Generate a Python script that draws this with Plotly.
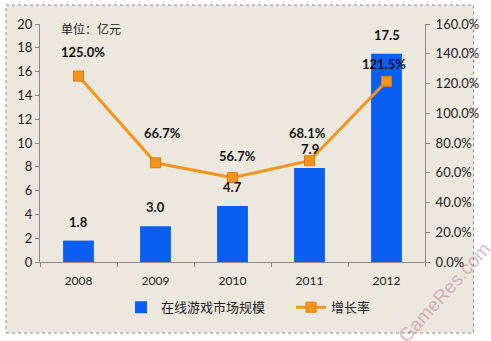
import plotly.graph_objects as go

years = ["2008", "2009", "2010", "2011", "2012"]
market = [1.8, 3.0, 4.7, 7.9, 17.5]
growth = [125.0, 66.7, 56.7, 68.1, 121.5]
bar_name = "在线游戏市场规模"
line_name = "增长率"
unit_label = "单位：亿元"

# label offsets (px) for the growth labels
g_xshift = [4, 7, 5, -2, -3]
g_yshift = [24, 30, 22, 28, 17]

FONT = "Lato, Carlito, 'Noto Sans CJK SC', sans-serif"
CJK = "'Noto Sans CJK SC', sans-serif"

fig = go.Figure()
fig.add_trace(go.Bar(
    x=years, y=market, name=bar_name, width=0.4,
    marker=dict(color="#0a5ef2", line=dict(width=0)),
    yaxis="y",
))
fig.add_trace(go.Scatter(
    x=years, y=growth, name=line_name, yaxis="y2",
    mode="lines+markers",
    line=dict(color="#f7941d", width=3),
    marker=dict(symbol="square", size=10, color="#f7941d",
                line=dict(color="#e07a10", width=1)),
))

annotations = []
for i, v in enumerate(market):
    annotations.append(dict(
        x=i, y=v, xref="x", yref="y", text=f"{v:.1f}",
        showarrow=False, yanchor="bottom", yshift=9,
        font=dict(family=FONT, size=13, color="#111111", weight="bold"),
    ))
for i, (g, xs, ys) in enumerate(zip(growth, g_xshift, g_yshift)):
    annotations.append(dict(
        x=i, y=g, xref="x", yref="y2", text=f"{g:.1f}%",
        showarrow=False, yanchor="middle", yshift=ys, xshift=xs,
        font=dict(family=FONT, size=13, color="#111111", weight="bold"),
    ))
annotations.append(dict(
    x=0.05, y=0.979, xref="paper", yref="paper", text=unit_label,
    showarrow=False, xanchor="left", yanchor="middle",
    font=dict(family=CJK, size=12, color="#222222"),
))
annotations.append(dict(
    x=1.05, y=-0.128, xref="paper", yref="paper", text="GameRes.com",
    showarrow=False, textangle=-48, xanchor="center", yanchor="middle",
    font=dict(family="Liberation Sans, sans-serif", size=19, color="rgba(190,120,150,0.55)"),
))

fig.update_layout(
    width=491, height=341,
    margin=dict(l=40, r=54, t=24, b=79),
    paper_bgcolor="white",
    plot_bgcolor="rgba(0,0,0,0)",
    showlegend=True,
    legend=dict(orientation="h", x=0.652, y=-0.19, xanchor="center", yanchor="middle",
                font=dict(family=CJK, size=13, color="#222222"),
                bgcolor="rgba(0,0,0,0)", itemwidth=30,
                entrywidth=125, entrywidthmode="pixels"),
    xaxis=dict(type="category", range=[-0.5, 4.5], autorange=False, showgrid=False,
               showline=True, linecolor="#8c8c8c", ticklabelstandoff=8,
               ticks="outside", tickson="boundaries", ticklen=4, tickcolor="#8c8c8c",
               tickfont=dict(family=FONT, size=12, color="#222222")),
    yaxis=dict(range=[0, 20], dtick=2, showgrid=False, showline=True, linecolor="#8c8c8c",
               ticks="outside", ticklen=4, tickcolor="#8c8c8c", zeroline=False,
               tickfont=dict(family=FONT, size=13, color="#222222")),
    yaxis2=dict(range=[0, 160], dtick=20, overlaying="y", side="right", showgrid=False,
                showline=True, linecolor="#8c8c8c", ticks="outside", ticklen=4,
                tickcolor="#8c8c8c", zeroline=False, ticksuffix="%", tickformat=".1f",
                ticklabelstandoff=3,
                tickfont=dict(family=FONT, size=13, color="#222222")),
    annotations=annotations,
    shapes=[dict(type="rect", xref="paper", yref="paper", layer="below",
                 x0=-0.0882, x1=1.126, y0=-0.2983, y1=1.0798,
                 fillcolor="#ece8de", line=dict(color="#888888", width=1, dash="dot"))],
)

fig.write_html("out.html")
